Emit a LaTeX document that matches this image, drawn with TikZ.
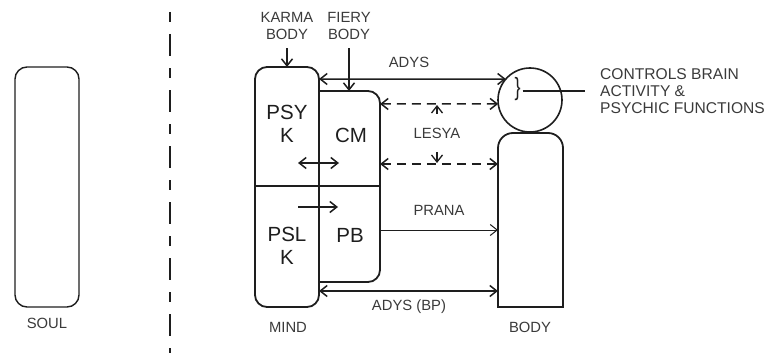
\documentclass[tikz,border=0pt]{standalone}
\usepackage{fontspec}
\setmainfont{Liberation Sans}
\usetikzlibrary{arrows.meta}
\definecolor{ink}{HTML}{1E1E1E}
\definecolor{txt}{HTML}{3A3A3A}
\begin{document}
\begin{tikzpicture}[x=1pt,y=-1pt,
  box/.style={draw=ink, line width=1.6pt, inner sep=0pt, outer sep=0pt, rounded corners=12pt},
  frame/.style={inner sep=0pt, outer sep=0pt},
  lbl/.style={text=txt, font=\fontsize{14.8}{17}\selectfont, inner sep=0pt, align=center},
  big/.style={text=ink, font=\fontsize{20.5}{23}\selectfont, inner sep=0pt, align=center},
  arr/.style={draw=ink, line width=1.5pt, -{Straight Barb[length=7pt,width=11pt]}},
  darr/.style={draw=ink, line width=1.5pt, {Straight Barb[length=7pt,width=11pt]}-{Straight Barb[length=7pt,width=11pt]}},
  dashline/.style={dash pattern=on 9pt off 6pt}
]
\useasboundingbox (0,0) rectangle (765,353);

% separator
\draw[ink, line width=2.4pt, dash pattern=on 10pt off 12pt on 22pt off 12pt] (170,12) -- (170,353);

% soul
\node[box, line width=1.4pt, minimum width=64pt, minimum height=240pt] (soul) at (47,187) {};
\node[lbl] (soullbl) at (47,323) {SOUL};

% mind
\node[box, line width=1.8pt, minimum width=64pt, minimum height=240pt] (mind) at (287,187) {};
\node[frame, minimum width=61pt, minimum height=191pt] (cmpb) at (349.5,186.5) {};
\draw[ink, line width=1.8pt, rounded corners=12pt] (cmpb.north west) -- (cmpb.north east) -- (cmpb.south east) -- (cmpb.south west);
\draw[ink, line width=1.8pt] (mind.west |- 0,186) -- (cmpb.east |- 0,186);
\node[lbl] (mindlbl) at (288,327) {MIND};

\node[big] (psy) at (287,123.5) {PSY\\K};
\node[big] (cm) at (351,135) {CM};
\node[big] (psl) at (287,246) {PSL\\K};
\node[big] (pb) at (350,235) {PB};
\coordinate (ia) at (298,163);
\coordinate (ib) at (339,163);
\coordinate (ic) at (298,207);
\coordinate (id) at (338,207);
\draw[darr] (ia) -- (ib);
\draw[arr] (ic) -- (id);

% top labels
\node[lbl] (karma) at (287,25.5) {KARMA\\BODY};
\node[lbl] (fiery) at (349,25.5) {FIERY\\BODY};
\draw[arr] ([yshift=-9pt]karma.south) -- (mind.north);
\draw[arr] ([yshift=-9pt]fiery.south) -- (fiery.south |- cmpb.north);

% body
\node[draw=ink, line width=1.6pt, circle, minimum size=64pt, inner sep=0pt, outer sep=0pt] (head) at (530,100) {};
\node[frame, minimum width=65pt, minimum height=174pt] (body) at (530.5,220) {};
\draw[ink, line width=1.8pt, rounded corners=15pt] (body.south west) -- (body.north west) -- (body.north east) -- (body.south east);
\draw[ink, line width=1.8pt, line cap=rect] (body.south west) -- (body.south east);
\node[lbl] (bodylbl) at (530,327) {BODY};

\node[text=ink, font=\fontsize{20}{20}\selectfont, inner sep=0pt] (brace) at (517.5,89) {\scalebox{0.9}[1.25]{\}}};
\node[lbl, align=left, anchor=west, font=\fontsize{15.6}{17}\selectfont] (ctrl) at (600,91) {CONTROLS BRAIN\\ACTIVITY \&\\PSYCHIC FUNCTIONS};
\draw[ink, line width=1.3pt] ([xshift=2pt]brace.east |- ctrl.west) -- ([xshift=-15pt]ctrl.west);

% connectors
\draw[darr] (mind.east |- 0,79) -- (head.139);
\node[lbl] (adys) at (409,62) {ADYS};
\draw[darr, dashline] (cmpb.east |- 0,104) -- (head.187);
\draw[darr, dashline] (cmpb.east |- 0,164) -- (body.west |- 0,164);
\node[lbl] (lesya) at (437,133) {LESYA};
\draw[arr, line width=1.3pt] ([yshift=14pt]lesya.north) -- (lesya.north |- 0,105);
\draw[arr, line width=1.3pt] ([yshift=-14pt]lesya.south) -- (lesya.south |- 0,163);
\draw[arr, line width=1pt] (cmpb.east |- 0,230) -- (body.west |- 0,230);
\node[lbl] (prana) at (439,210) {PRANA};
\draw[darr] (mind.east |- 0,291) -- (body.west |- 0,291);
\node[lbl] (adysbp) at (409,307) {ADYS (BP)};
\end{tikzpicture}
\end{document}
